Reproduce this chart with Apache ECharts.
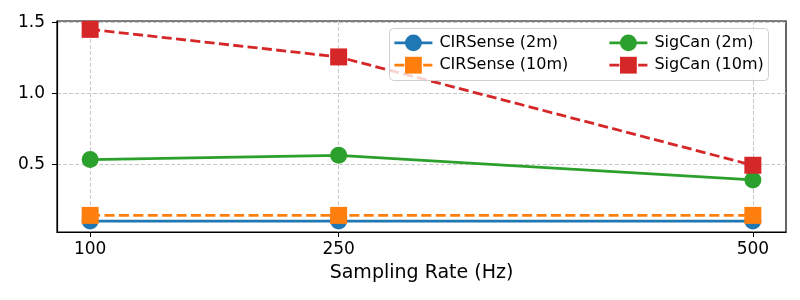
<!DOCTYPE html>
<html><head><meta charset="utf-8">
<script src="https://cdn.jsdelivr.net/npm/echarts@6/dist/echarts.min.js"></script>
<style>html,body{margin:0;padding:0;background:#fff}#c{width:800px;height:300px}</style>
</head><body><div id="c"></div>
<script>
const rates = [100, 250, 500];
const cirsense2m = [0.10, 0.10, 0.10];
const cirsense10m = [0.14, 0.14, 0.14];
const sigcan2m = [0.533, 0.563, 0.39];
const sigcan10m = [1.45, 1.256, 0.493];
const xTicks = [100, 250, 500];
const yTicks = [0.5, 1.0, 1.5];
const xLabel = 'Sampling Rate (Hz)';

const FONT = 'DejaVu Sans';
const chart = echarts.init(document.getElementById('c'), null, {renderer: 'canvas'});
const pair = (ys) => rates.map((x, i) => [x, ys[i]]);
function mk(name, ys, color, symbol, dashed) {
  return {
    name, type: 'line', data: pair(ys), symbol, symbolSize: 17,
    lineStyle: {color, width: 2.8, type: dashed ? [10, 4.4] : 'solid'},
    itemStyle: {color, borderWidth: 0},
    emphasis: {disabled: true}, animation: false
  };
}
const gridLine = {show: true, lineStyle: {color: '#c8c8c8', width: 1, type: [4, 2]}};
const legendText = {fontFamily: FONT, fontSize: 16, color: '#000', padding: [0, 0, 0, 2]};
chart.setOption({
  animation: false,
  grid: {left: 57, right: 14, top: 21, bottom: 68, show: true, borderColor: '#000', borderWidth: 1.2, backgroundColor: 'transparent'},
  xAxis: {
    type: 'value', min: 80, max: 520,
    name: xLabel, nameLocation: 'middle', nameGap: 32,
    nameTextStyle: {fontFamily: FONT, fontSize: 19, color: '#000'},
    axisLine: {show: true, lineStyle: {color: '#000', width: 1.2}},
    axisTick: {show: true, length: 5, inside: false, customValues: xTicks, lineStyle: {color: '#000'}},
    axisLabel: {customValues: xTicks, margin: 9, fontFamily: FONT, fontSize: 17, color: '#000'},
    splitLine: gridLine
  },
  yAxis: {
    type: 'value', min: 0.023, max: 1.509,
    axisLine: {show: true, lineStyle: {color: '#000', width: 1.2}},
    axisTick: {show: true, length: 5, inside: false, customValues: yTicks, lineStyle: {color: '#000'}},
    axisLabel: {customValues: yTicks, margin: 12, fontFamily: FONT, fontSize: 17, color: '#000',
      formatter: v => v.toFixed(1)},
    splitLine: gridLine
  },
  graphic: [{
    type: 'rect', left: 389, top: 28, z: 100,
    shape: {width: 379, height: 52, r: 4},
    style: {fill: 'rgba(255,255,255,0.8)', stroke: '#d0d0d0', lineWidth: 1}
  }],
  legend: [
    {orient: 'vertical', left: 393, top: 34.5, itemWidth: 38, itemHeight: 21, itemGap: 5.5, z: 101, padding: 0,
     lineStyle: {width: 2.8}, data: ['CIRSense (2m)', 'CIRSense (10m)'], textStyle: legendText},
    {orient: 'vertical', left: 608, top: 34.5, itemWidth: 38, itemHeight: 21, itemGap: 5.5, z: 101, padding: 0,
     lineStyle: {width: 2.8}, data: ['SigCan (2m)', 'SigCan (10m)'], textStyle: legendText}
  ],
  series: [
    mk('CIRSense (2m)', cirsense2m, '#1f77b4', 'circle', false),
    mk('CIRSense (10m)', cirsense10m, '#ff7f0e', 'rect', true),
    mk('SigCan (2m)', sigcan2m, '#2ca02c', 'circle', false),
    mk('SigCan (10m)', sigcan10m, '#d62728', 'rect', true)
  ]
});
</script></body></html>
